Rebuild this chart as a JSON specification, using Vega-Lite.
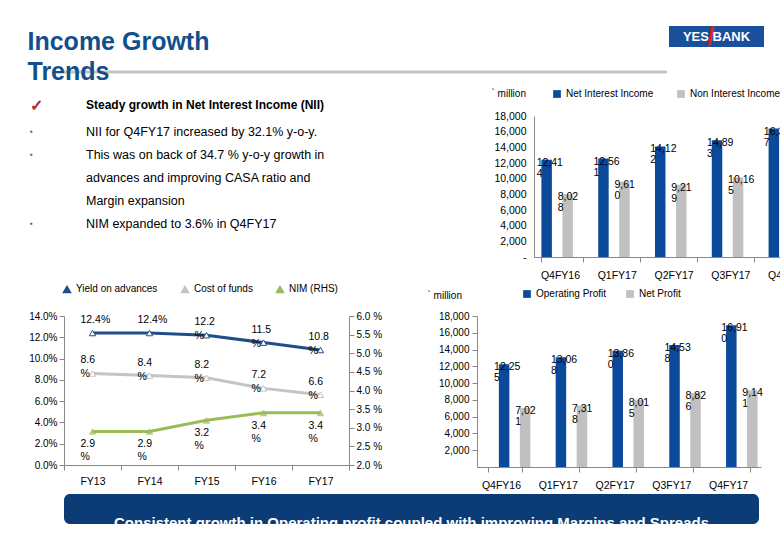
{
  "$schema": "https://vega.github.io/schema/vega-lite/v6.json",
  "background": "white",
  "padding": {"left": 27, "top": 23, "right": 0, "bottom": 0},
  "columns": 1,
  "align": "none",
  "spacing": 3,
  "resolve": {"scale": {"color": "independent"}, "legend": {"color": "independent"}},
  "config": {
    "font": "Liberation Sans",
    "view": {"stroke": null},
    "axis": {"labelFont": "Liberation Sans", "labelFontSize": 10, "labelColor": "#000", "domainColor": "#888", "tickColor": "#888", "grid": false, "titleFont": "Liberation Sans", "titleFontWeight": "normal", "titleFontSize": 10, "titleColor": "#000"},
    "legend": {"labelFont": "Liberation Sans", "labelFontSize": 10, "labelColor": "#000"},
    "title": {"font": "Liberation Sans"}
  },
  "concat": [
    {
      "spacing": 0,
      "hconcat": [
        {
          "width": 603, "height": 46,
          "data": {"values": [{}]},
          "title": {"text": ["Income Growth", "Trends"], "orient": "bottom", "anchor": "start", "dx": -35, "fontSize": 25, "lineHeight": 30, "fontWeight": "bold", "color": "#124f8b", "offset": -44},
          "mark": {"type": "rule", "color": "#c4c4c4", "strokeWidth": 3},
          "encoding": {"y": {"datum": 0, "type": "quantitative", "scale": {"domain": [0, 1]}, "axis": null}}
        },
        {
          "width": 95, "height": 21,
          "data": {"values": [{}]},
          "view": {"fill": "#1a4f9c"},
          "layer": [
            {"mark": {"type": "text", "fontWeight": "bold", "fontSize": 13, "color": "white"}, "encoding": {"text": {"value": "YES    BANK"}}},
            {"mark": {"type": "text", "fontWeight": "bold", "fontSize": 26, "color": "#d2232a", "dx": -6}, "encoding": {"text": {"value": "/"}}}
          ]
        }
      ]
    },
    {
      "spacing": 55,
      "resolve": {"scale": {"color": "independent"}, "legend": {"color": "independent"}},
      "hconcat": [
        {
          "spacing": 16,
          "hconcat": [
            {
              "width": 6, "height": 1,
              "data": {"values": [{}]},
              "title": {"text": "✓", "orient": "bottom", "anchor": "start", "offset": -24, "dx": -34, "color": "#b5242a", "fontSize": 16, "fontWeight": "bold", "subtitle": ["▪", "▪", "\u2800", "\u2800", "▪"], "subtitleColor": "#4a5f80", "subtitleFontSize": 8, "subtitleLineHeight": 23, "subtitlePadding": 14},
              "mark": {"type": "text"},
              "encoding": {"text": {"value": " "}}
            },
            {
              "width": 290, "height": 1,
              "data": {"values": [{}]},
              "title": {"text": "Steady growth in Net Interest Income (NII)", "orient": "bottom", "anchor": "start", "offset": -22, "dx": -60, "color": "#000", "fontSize": 12, "fontWeight": "bold", "subtitle": ["NII for Q4FY17 increased by 32.1% y-o-y.", "This was on back of 34.7 % y-o-y growth in", "advances and improving CASA ratio and", "Margin expansion", "NIM expanded to 3.6% in Q4FY17"], "subtitleColor": "#000", "subtitleFontSize": 12.5, "subtitleLineHeight": 23, "subtitlePadding": 14},
              "mark": {"type": "text"},
              "encoding": {"text": {"value": " "}}
            }
          ]
        },
        {
          "width": 284, "height": 141,
          "data": {"values": [
            {"quarter": "Q4FY16", "series": "Net Interest Income", "value": 12414},
            {"quarter": "Q4FY16", "series": "Non Interest Income", "value": 8028},
            {"quarter": "Q1FY17", "series": "Net Interest Income", "value": 12561},
            {"quarter": "Q1FY17", "series": "Non Interest Income", "value": 9610},
            {"quarter": "Q2FY17", "series": "Net Interest Income", "value": 14122},
            {"quarter": "Q2FY17", "series": "Non Interest Income", "value": 9219},
            {"quarter": "Q3FY17", "series": "Net Interest Income", "value": 14893},
            {"quarter": "Q3FY17", "series": "Non Interest Income", "value": 10165},
            {"quarter": "Q4FY17", "series": "Net Interest Income", "value": 16397},
            {"quarter": "Q4FY17", "series": "Non Interest Income", "value": 12574}
          ]},
          "transform": [
            {"calculate": "format(datum.value, ',')", "as": "s"},
            {"calculate": "slice(datum.s, 0, -1) + '|' + slice(datum.s, -1)", "as": "lbl"}
          ],
          "encoding": {
            "x": {"field": "quarter", "type": "nominal", "sort": null, "title": null,
                  "scale": {"paddingInner": 0.26, "paddingOuter": 0.13},
                  "axis": {"labelAngle": 0, "tickBand": "extent", "labelAlign": "left", "labelOffset": -22, "labelFontSize": 10.5, "labelPadding": 8}},
            "xOffset": {"field": "series", "type": "nominal", "sort": ["Net Interest Income", "Non Interest Income"]},
            "y": {"field": "value", "type": "quantitative", "scale": {"domain": [0, 18000]},
                  "axis": {"values": [0, 2000, 4000, 6000, 8000, 10000, 12000, 14000, 16000, 18000], "labelExpr": "datum.value == 0 ? '-' : format(datum.value, ',')", "ticks": false, "labelPadding": 8, "labelFontSize": 10.5,
                           "title": "` million", "titleAngle": 0, "titleAlign": "left", "titleX": -43, "titleY": -18}}
          },
          "layer": [
            {"mark": {"type": "bar"},
             "encoding": {"color": {"field": "series", "type": "nominal", "scale": {"domain": ["Net Interest Income", "Non Interest Income"], "range": ["#0b4a9b", "#c0c0c0"]},
                          "legend": {"title": null, "orient": "none", "legendX": 18, "legendY": -27, "direction": "horizontal", "symbolType": "square", "symbolSize": 60, "symbolStrokeWidth": 0, "columnPadding": 22, "labelFontSize": 10}}}},
            {"mark": {"type": "text", "align": "left", "baseline": "bottom", "dx": -10, "dy": 8, "fontSize": 10.5, "lineHeight": 11, "lineBreak": "|", "color": "#000"},
             "encoding": {"text": {"field": "lbl"}}}
          ]
        }
      ]
    },
    {
      "spacing": 45,
      "resolve": {"scale": {"color": "independent"}, "legend": {"color": "independent"}},
      "hconcat": [
        {
          "width": 285, "height": 149,
          "data": {"values": [
            {"year": "FY13", "series": "Yield on advances", "value": 12.4, "lbl": "12.4%"},
            {"year": "FY14", "series": "Yield on advances", "value": 12.4, "lbl": "12.4%"},
            {"year": "FY15", "series": "Yield on advances", "value": 12.2, "lbl": "12.2|%"},
            {"year": "FY16", "series": "Yield on advances", "value": 11.5, "lbl": "11.5|%"},
            {"year": "FY17", "series": "Yield on advances", "value": 10.8, "lbl": "10.8|%"},
            {"year": "FY13", "series": "Cost of funds", "value": 8.6, "lbl": "8.6|%"},
            {"year": "FY14", "series": "Cost of funds", "value": 8.4, "lbl": "8.4|%"},
            {"year": "FY15", "series": "Cost of funds", "value": 8.2, "lbl": "8.2|%"},
            {"year": "FY16", "series": "Cost of funds", "value": 7.2, "lbl": "7.2|%"},
            {"year": "FY17", "series": "Cost of funds", "value": 6.6, "lbl": "6.6|%"},
            {"year": "FY13", "series": "NIM (RHS)", "value": 2.9, "lbl": "2.9|%"},
            {"year": "FY14", "series": "NIM (RHS)", "value": 2.9, "lbl": "2.9|%"},
            {"year": "FY15", "series": "NIM (RHS)", "value": 3.2, "lbl": "3.2|%"},
            {"year": "FY16", "series": "NIM (RHS)", "value": 3.4, "lbl": "3.4|%"},
            {"year": "FY17", "series": "NIM (RHS)", "value": 3.4, "lbl": "3.4|%"}
          ]},
          "encoding": {
            "x": {"field": "year", "type": "nominal", "sort": null, "title": null,
                  "scale": {"type": "band", "paddingInner": 0, "paddingOuter": 0},
                  "axis": {"labelAngle": 0, "tickBand": "extent", "labelFontSize": 10.5, "labelPadding": 6}},
            "color": {"field": "series", "type": "nominal", "scale": {"domain": ["Yield on advances", "Cost of funds", "NIM (RHS)"], "range": ["#1f4e8a", "#c4c4c4", "#9bbb59"]},
                      "legend": {"title": null, "orient": "none", "legendX": -2, "legendY": -32, "direction": "horizontal", "symbolType": "triangle-up", "symbolSize": 50, "columnPadding": 20, "labelFontSize": 10}}
          },
          "layer": [
            {
              "transform": [{"filter": "datum.series != 'NIM (RHS)'"}],
              "encoding": {"y": {"field": "value", "type": "quantitative", "scale": {"domain": [0, 14]},
                                 "axis": {"values": [0, 2, 4, 6, 8, 10, 12, 14], "labelExpr": "format(datum.value, '.1f') + '%'", "title": null, "labelFontSize": 10, "tickSize": 5}}},
              "layer": [
                {"mark": {"type": "line", "strokeWidth": 3}},
                {"mark": {"type": "point", "shape": "triangle-up", "filled": false, "fill": "white", "fillOpacity": 1, "size": 40, "strokeWidth": 1}},
                {"mark": {"type": "text", "align": "left", "baseline": "top", "dx": -12, "dy": -18, "fontSize": 10.5, "lineHeight": 14, "lineBreak": "|", "color": "#000"}, "encoding": {"text": {"field": "lbl"}, "color": {"value": "#000"}}}
              ]
            },
            {
              "transform": [{"filter": "datum.series == 'NIM (RHS)'"}],
              "encoding": {"y": {"field": "value", "type": "quantitative", "scale": {"domain": [2, 6]},
                                 "axis": {"orient": "right", "values": [2, 2.5, 3, 3.5, 4, 4.5, 5, 5.5, 6], "labelExpr": "format(datum.value, '.1f') + ' %'", "title": null, "labelFontSize": 10, "tickSize": 5}}},
              "layer": [
                {"mark": {"type": "line", "strokeWidth": 3}},
                {"mark": {"type": "point", "shape": "triangle-up", "filled": true, "size": 60}},
                {"mark": {"type": "text", "align": "left", "baseline": "top", "dx": -12, "dy": 8, "fontSize": 10.5, "lineHeight": 13, "lineBreak": "|", "color": "#000"}, "encoding": {"text": {"field": "lbl"}, "color": {"value": "#000"}}}
              ]
            }
          ],
          "resolve": {"scale": {"y": "independent"}}
        },
        {
          "width": 284, "height": 151,
          "data": {"values": [
            {"quarter": "Q4FY16", "series": "Operating Profit", "value": 12255},
            {"quarter": "Q4FY16", "series": "Net Profit", "value": 7021},
            {"quarter": "Q1FY17", "series": "Operating Profit", "value": 13068},
            {"quarter": "Q1FY17", "series": "Net Profit", "value": 7318},
            {"quarter": "Q2FY17", "series": "Operating Profit", "value": 13860},
            {"quarter": "Q2FY17", "series": "Net Profit", "value": 8015},
            {"quarter": "Q3FY17", "series": "Operating Profit", "value": 14538},
            {"quarter": "Q3FY17", "series": "Net Profit", "value": 8826},
            {"quarter": "Q4FY17", "series": "Operating Profit", "value": 16910},
            {"quarter": "Q4FY17", "series": "Net Profit", "value": 9141}
          ]},
          "transform": [
            {"calculate": "format(datum.value, ',')", "as": "s"},
            {"calculate": "slice(datum.s, 0, -1) + '|' + slice(datum.s, -1)", "as": "lbl"}
          ],
          "encoding": {
            "x": {"field": "quarter", "type": "nominal", "sort": null, "title": null,
                  "scale": {"paddingInner": 0.4, "paddingOuter": 0.2},
                  "axis": {"labelAngle": 0, "tickBand": "extent", "labelAlign": "left", "labelOffset": -24, "labelFontSize": 10.5, "labelPadding": 8}},
            "xOffset": {"field": "series", "type": "nominal", "sort": ["Operating Profit", "Net Profit"]},
            "y": {"field": "value", "type": "quantitative", "scale": {"domain": [0, 18000]},
                  "axis": {"values": [2000, 4000, 6000, 8000, 10000, 12000, 14000, 16000, 18000], "labelExpr": "format(datum.value, ',')", "tickSize": 5, "labelFontSize": 10, "labelPadding": 3,
                           "title": "` million", "titleAngle": 0, "titleAlign": "left", "titleX": -50, "titleY": -16}}
          },
          "layer": [
            {"mark": {"type": "bar"},
             "encoding": {"color": {"field": "series", "type": "nominal", "scale": {"domain": ["Operating Profit", "Net Profit"], "range": ["#0b4a9b", "#c0c0c0"]},
                          "legend": {"title": null, "orient": "none", "legendX": 45, "legendY": -27, "direction": "horizontal", "symbolType": "square", "symbolSize": 60, "symbolStrokeWidth": 0, "columnPadding": 18, "labelFontSize": 10}}}},
            {"mark": {"type": "text", "align": "left", "baseline": "bottom", "dx": -10, "dy": 8, "fontSize": 10.5, "lineHeight": 11, "lineBreak": "|", "color": "#000"},
             "encoding": {"text": {"field": "lbl"}}}
          ]
        }
      ]
    },
    {
      "width": 695, "height": 30,
      "data": {"values": [{}]},
      "view": {"fill": "#0c3c75", "cornerRadius": 6},
      "mark": {"type": "text", "fontSize": 15, "fontWeight": "bold", "color": "white", "dy": 14, "clip": true},
      "encoding": {"text": {"value": "Consistent growth in Operating profit coupled with improving Margins and Spreads"}}
    }
  ]
}
